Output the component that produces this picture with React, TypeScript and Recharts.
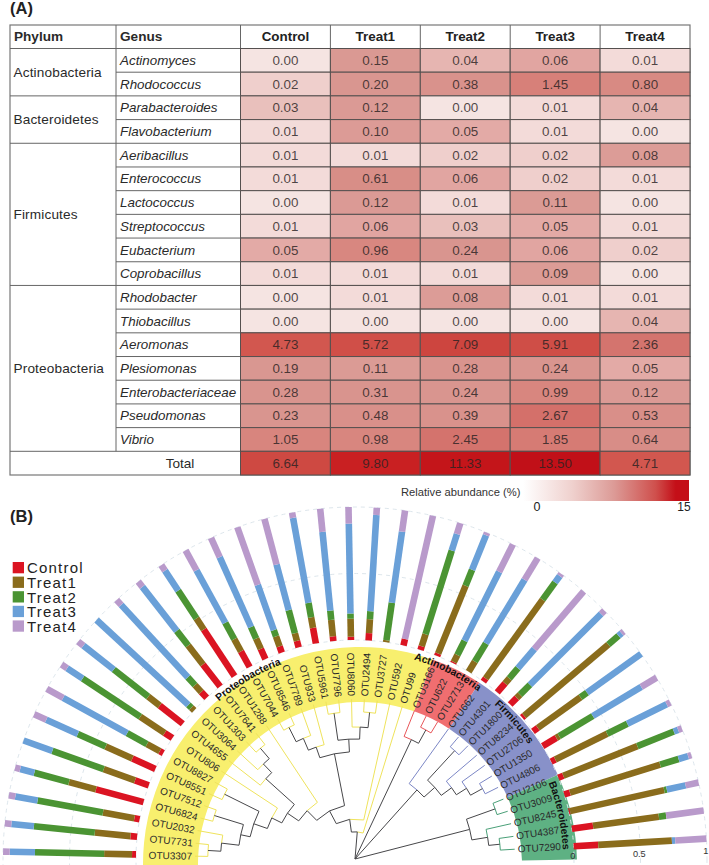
import React from "react";
import {
  Pie,
  PieChart,
  PolarAngleAxis,
  PolarGrid,
  PolarRadiusAxis,
  RadialBar,
  RadialBarChart,
  Scatter,
  ScatterChart,
  XAxis,
  YAxis,
} from "recharts";

const WIDTH = 709;
const HEIGHT = 865;
const FONT = '"Liberation Sans", Arial, sans-serif';

// ---- panel A data ----
const treatments = ["Control", "Treat1", "Treat2", "Treat3", "Treat4"];
const genera = [
  "Actinomyces", "Rhodococcus", "Parabacteroides", "Flavobacterium", "Aeribacillus", "Enterococcus",
  "Lactococcus", "Streptococcus", "Eubacterium", "Coprobacillus", "Rhodobacter", "Thiobacillus",
  "Aeromonas", "Plesiomonas", "Enterobacteriaceae", "Pseudomonas", "Vibrio",
];
const phyla = ["Actinobacteria", "Bacteroidetes", "Firmicutes", "Proteobacteria"];
const phylumRows = [2, 2, 6, 7];

const controlAbundance = ["0.00", "0.02", "0.03", "0.01", "0.01", "0.01", "0.00", "0.01", "0.05", "0.01", "0.00", "0.00", "4.73", "0.19", "0.28", "0.23", "1.05", "6.64"];
const treat1Abundance = ["0.15", "0.20", "0.12", "0.10", "0.01", "0.61", "0.12", "0.06", "0.96", "0.01", "0.01", "0.00", "5.72", "0.11", "0.31", "0.48", "0.98", "9.80"];
const treat2Abundance = ["0.04", "0.38", "0.00", "0.05", "0.02", "0.06", "0.01", "0.03", "0.24", "0.01", "0.08", "0.00", "7.09", "0.28", "0.24", "0.39", "2.45", "11.33"];
const treat3Abundance = ["0.06", "1.45", "0.01", "0.01", "0.02", "0.02", "0.11", "0.05", "0.06", "0.09", "0.01", "0.00", "5.91", "0.24", "0.99", "2.67", "1.85", "13.50"];
const treat4Abundance = ["0.01", "0.80", "0.04", "0.00", "0.08", "0.01", "0.00", "0.01", "0.02", "0.00", "0.01", "0.04", "2.36", "0.05", "0.12", "0.53", "0.64", "4.71"];

const heatStopValues = [0, 0.01, 0.02, 0.03, 0.05, 0.08, 0.2, 1, 2.5, 4.7, 7, 9.8, 11.3, 15];
const heatStopColors = ["#f5e4e2", "#f3dbd9", "#efcfcc", "#e9c0bc", "#e3aaa6", "#dc9c97", "#d99690", "#d8867f", "#d4726c", "#d2574f", "#cd4640", "#c92022", "#c4151a", "#bf0d16"];

// ---- panel B data ----
const otus = [
  "OTU3307", "OTU7731", "OTU2032", "OTU6824", "OTU7512", "OTU8551", "OTU8827", "OTU806", "OTU4655", "OTU3064",
  "OTU1303", "OTU7641", "OTU1288", "OTU7044", "OTU8546", "OTU7789", "OTU933", "OTU5961", "OTU7796", "OTU8060",
  "OTU2494", "OTU3727", "OTU592", "OTU99", "OTU3166", "OTU622", "OTU2713", "OTU662", "OTU4301", "OTU1800",
  "OTU8234", "OTU2706", "OTU1350", "OTU4806", "OTU2106", "OTU3009", "OTU8245", "OTU4387", "OTU7290",
];
const controlShare = [0.03, 0.05, 0.04, 0.37, 0.11, 0.19, 0.03, 0.07, 0.22, 0, 0.06, 0.21, 0.42, 0.135, 0.085, 0.05, 0.05, 0.12, 0.035, 0.025, 0.055, 0, 0.05, 0.03, 0.02, 0.01, 0, 0.03, 0.09, 0.07, 0.02, 0.045, 0.12, 0.035, 0.04, 0.045, 0.01, 0.16, 0.185];
const treat1Share = [0.21, 0.27, 0.24, 0.21, 0.25, 0.22, 0.11, 0.22, 0.11, 0.03, 0.07, 0.18, 0.1, 0.105, 0.085, 0.08, 0.06, 0.08, 0.125, 0.135, 0.105, 0.015, 0, 0.095, 0.55, 0.06, 0.09, 0.73, 0.05, 0.035, 0.83, 0.395, 0.025, 0.435, 0.6, 0.71, 0.725, 0.5, 0.555];
const treat2Share = [0.52, 0.46, 0.5, 0.27, 0.41, 0.23, 0.17, 0.52, 0.33, 0.03, 0.08, 0.14, 0.25, 0.14, 0.095, 0.05, 0.18, 0.11, 0.07, 0.04, 0.06, 0.285, 0, 0.66, 0.13, 0.12, 0.16, 0.16, 0.1, 0.105, 0.1, 0.06, 0.295, 0.17, 0.295, 0.145, 0.02, 0.055, 0];
const treat3Share = [0.19, 0.17, 0.17, 0.11, 0.23, 0.26, 0.55, 0.14, 0.29, 0.94, 0.74, 0.42, 0.18, 0.45, 0.575, 0.36, 0.355, 0.65, 0.595, 0.675, 0.725, 0.54, 0, 0.13, 0.28, 0.58, 0.56, 0.06, 0.19, 0.755, 0.03, 0.5, 0.425, 0.33, 0.035, 0.075, 0.145, 0, 0.025];
const treat4Share = [0.05, 0.05, 0.05, 0.04, 0, 0.1, 0.14, 0.05, 0.05, 0, 0.05, 0.05, 0.05, 0.17, 0.16, 0.46, 0.355, 0.04, 0.175, 0.125, 0.055, 0.16, 0.95, 0.085, 0.02, 0.23, 0.19, 0.02, 0.57, 0.035, 0.02, 0, 0.135, 0.03, 0.03, 0.025, 0.1, 0.285, 0.235];
const seriesColors = ["#db1422", "#8a6c1c", "#4b9433", "#6aa0d8", "#b99acb"];

const cladeOtuCounts = [24, 3, 7, 5];
const cladeNames = ["Proteobacteria", "Actinobacteria", "Firmicutes", "Bacteroidetes"];
const cladeFills = ["#f8ef6e", "#f06e70", "#8891c9", "#5eb183"];
const cladeLines = ["#efe35c", "#e8565a", "#7c87c6", "#4aa078"];

// tree: [depth as a share of the leaf radius, ...children]; a string is a leaf
type TreeNode = string | [number, ...TreeNode[]];
const proteoTree: TreeNode = [0.17,
  [0.25,
    [0.34,
      [0.425,
        [0.51,
          [0.58,
            [0.67,
              [0.73,
                [0.84, [0.92, "OTU3307", "OTU7731"], "OTU2032"],
                [0.92, "OTU6824", "OTU7512"]],
              [0.91, "OTU8551", "OTU8827"]],
            "OTU806"],
          [0.75, "OTU4655", [0.825, "OTU3064", [0.91, "OTU1303", "OTU7641"]]]],
        "OTU1288"],
      [0.67,
        [0.74, [0.82, [0.92, "OTU7044", "OTU8546"], "OTU7789"], "OTU933"],
        [0.75, [0.92, "OTU5961", "OTU7796"], [0.825, "OTU8060", [0.92, "OTU2494", "OTU3727"]]]]],
    "OTU592"],
  "OTU99"];
const actinoTree: TreeNode = [0.825, "OTU3166", [0.92, "OTU622", "OTU2713"]];
const firmiTree: TreeNode = [0.58, "OTU662",
  [0.67, [0.92, "OTU4301", "OTU1800"],
    [0.75, "OTU8234", [0.825, "OTU2706", [0.91, "OTU1350", "OTU4806"]]]]];
const bacteroTree: TreeNode = [0.74, [0.93, "OTU2106", "OTU3009"], [0.84, "OTU8245", [0.91, "OTU4387", "OTU7290"]]];
const cladeTrees = [proteoTree, actinoTree, firmiTree, bacteroTree];

const radialRows = otus.map((otu, i) => ({
  otu,
  control: controlShare[i],
  treat1: treat1Share[i],
  treat2: treat2Share[i],
  treat3: treat3Share[i],
  treat4: treat4Share[i],
}));
const radialKeys = ["control", "treat1", "treat2", "treat3", "treat4"];

const heatColumns = [controlAbundance, treat1Abundance, treat2Abundance, treat3Abundance, treat4Abundance];
const heatCells = heatColumns.flatMap((column, col) =>
  column.map((label, row) => ({ col, row, label, value: Number(label) }))
);

// ---- geometry ----
const TABLE = { left: 10, genus: 116, plot: 240.5, right: 690, top: 25, head: 48.5, bottom: 475 };
const ROW_H = (TABLE.bottom - TABLE.head) / 18;
const COL_W = (TABLE.right - TABLE.plot) / 5;

const CX = 355;
const CY = 859;
const BAR_IN = 219;
const BAR_OUT = 352;
const BAND_IN = 162;
const BAND_OUT = 217;
const LEAF_R = 160;
const START_ANGLE = 181.3;
const END_ANGLE = 1.2;
const STEP = (START_ANGLE - END_ANGLE) / otus.length;
const rad = Math.PI / 180;

const polar = (r: number, a: number) => ({ x: CX + r * Math.cos(a * rad), y: CY - r * Math.sin(a * rad) });
const leafAngle = (name: string) => START_ANGLE - (otus.indexOf(name) + 0.5) * STEP;

function hexToRgb(hex: string) {
  return [1, 3, 5].map((i) => parseInt(hex.slice(i, i + 2), 16));
}

function heatColor(v: number) {
  let i = 0;
  while (i < heatStopValues.length - 2 && v > heatStopValues[i + 1]) i++;
  const t = Math.min(1, (v - heatStopValues[i]) / (heatStopValues[i + 1] - heatStopValues[i]));
  const a = hexToRgb(heatStopColors[i]);
  const b = hexToRgb(heatStopColors[i + 1]);
  return `rgb(${a.map((c, k) => Math.round(c + (b[k] - c) * t)).join(",")})`;
}

function HeatCell(props: any) {
  const { cx, cy, payload } = props;
  return (
    <g>
      <rect x={cx - COL_W / 2} y={cy - ROW_H / 2} width={COL_W} height={ROW_H} fill={heatColor(payload.value)} stroke="#55504f" strokeWidth={1} />
      <text x={cx} y={cy + 4.6} textAnchor="middle" fontSize={13.4} fontFamily={FONT} fill="#2a2222" fillOpacity={0.82}>
        {payload.label}
      </text>
    </g>
  );
}

function GenusTick(props: any) {
  const { y, payload } = props;
  if (payload.value >= genera.length) return null;
  return (
    <text x={TABLE.genus + 4} y={y + 4.6} fontSize={13.4} fontStyle="italic" fontFamily={FONT} fill="#2a2a2a">
      {genera[payload.value]}
    </text>
  );
}

function HeadTick(props: any) {
  const { x, payload } = props;
  return (
    <text x={x} y={TABLE.top + 16} textAnchor="middle" fontSize={13.4} fontWeight="bold" fontFamily={FONT} fill="#222">
      {treatments[payload.value]}
    </text>
  );
}

function TableFrame() {
  const line = { stroke: "#666", strokeWidth: 1 };
  let acc = 0;
  return (
    <g fontFamily={FONT} fill="#2a2a2a" fontSize={13.6}>
      <rect x={TABLE.left} y={TABLE.top} width={TABLE.right - TABLE.left} height={TABLE.bottom - TABLE.top} fill="none" stroke="#777" strokeWidth={1.2} />
      <line x1={TABLE.left} x2={TABLE.right} y1={TABLE.head} y2={TABLE.head} {...line} />
      <line x1={TABLE.genus} x2={TABLE.genus} y1={TABLE.top} y2={TABLE.head + 17 * ROW_H} {...line} />
      <line x1={TABLE.plot} x2={TABLE.plot} y1={TABLE.top} y2={TABLE.bottom} {...line} />
      {treatments.map((t, i) => (
        <line key={t} x1={TABLE.plot + COL_W * i} x2={TABLE.plot + COL_W * i} y1={TABLE.top} y2={TABLE.head} {...line} />
      ))}
      {genera.map((g, i) => (
        <line key={g} x1={TABLE.genus} x2={TABLE.plot} y1={TABLE.head + ROW_H * (i + 1)} y2={TABLE.head + ROW_H * (i + 1)} {...line} />
      ))}
      {phyla.map((p, i) => {
        const top = TABLE.head + acc * ROW_H;
        acc += phylumRows[i];
        const bottom = TABLE.head + acc * ROW_H;
        return (
          <g key={p}>
            <line x1={TABLE.left} x2={TABLE.genus} y1={bottom} y2={bottom} {...line} />
            <text x={TABLE.left + 3.5} y={(top + bottom) / 2 + 4.8} letterSpacing={0.15}>{p}</text>
          </g>
        );
      })}
      <text x={TABLE.left + 4} y={TABLE.top + 16} fontWeight="bold">Phylum</text>
      <text x={TABLE.genus + 4} y={TABLE.top + 16} fontWeight="bold">Genus</text>
      <text x={180} y={TABLE.bottom - 7} textAnchor="middle">Total</text>
    </g>
  );
}

function HeatLegend() {
  return (
    <g fontFamily={FONT}>
      <defs>
        <linearGradient id="heatRamp" x1="0" x2="1" y1="0" y2="0">
          <stop offset="0" stopColor="#ffffff" />
          <stop offset="0.3" stopColor="#efd0cd" />
          <stop offset="0.55" stopColor="#dc9a96" />
          <stop offset="0.8" stopColor="#cf4f4c" />
          <stop offset="0.92" stopColor="#c40f18" />
          <stop offset="1" stopColor="#c40f18" />
        </linearGradient>
      </defs>
      <rect x={523} y={480} width={166} height={21} fill="url(#heatRamp)" />
      <text x={401} y={496} fontSize={11.2} fill="#333">Relative abundance (%)</text>
      <text x={537} y={511} fontSize={12.5} textAnchor="middle" fill="#222">0</text>
      <text x={684} y={511} fontSize={12} textAnchor="middle" fill="#222">15</text>
    </g>
  );
}

// the library hands over each band's edge and a bar size that points the wrong way on a
// clockwise axis, so take the band centre on the far side of startAngle
function StraightBar(props: any) {
  const { innerRadius, outerRadius, startAngle, endAngle, fill } = props;
  if (!(outerRadius > innerRadius)) return <g />;
  const a = startAngle - (endAngle - startAngle) / 2;
  const p = polar(innerRadius, a);
  const q = polar(outerRadius, a);
  return <line x1={p.x} y1={p.y} x2={q.x} y2={q.y} stroke={fill} strokeWidth={6.6} />;
}

function RadiusTick(props: any) {
  const { x, y, payload } = props;
  return (
    <text x={x - 1} y={y + 7.5} textAnchor="middle" fontSize={9.2} fontFamily={FONT} fill="#333">
      {payload.value}
    </text>
  );
}

function drawTree(node: TreeNode, clade: number, out: React.ReactElement[]): { r: number; a: number } {
  if (typeof node === "string") return { r: LEAF_R, a: leafAngle(node) };
  const [depth, ...kids] = node;
  const r = depth * LEAF_R;
  const placed = kids.map((k) => drawTree(k, clade, out));
  const a = (placed[0].a + placed[placed.length - 1].a) / 2;
  placed.forEach((c, i) => {
    const color = typeof kids[i] === "string" ? cladeLines[clade] : "#47474a";
    const s = polar(c.r, c.a);
    const e = polar(r, c.a);
    const m = polar(r, a);
    out.push(<polyline key={out.length} points={`${s.x},${s.y} ${e.x},${e.y} ${m.x},${m.y}`} fill="none" stroke={color} strokeWidth={1} />);
  });
  return { r, a };
}

function PhyloTree() {
  const edges: React.ReactElement[] = [];
  const tops = cladeTrees.map((t, i) => drawTree(t, i, edges));
  return (
    <g>
      {edges}
      {tops.map((t, i) => {
        const p = polar(t.r, t.a);
        return <line key={i} x1={CX} y1={CY} x2={p.x} y2={p.y} stroke="#47474a" strokeWidth={1} />;
      })}
    </g>
  );
}

function LeafLabels() {
  return (
    <g fontFamily={FONT} fontSize={10} fill="#2b2b2b">
      {otus.map((otu) => {
        const a = leafAngle(otu);
        const p = polar(163, a);
        const left = a > 90;
        return (
          <text key={otu} x={p.x} y={p.y} dy="0.35em" textAnchor={left ? "end" : "start"} transform={`rotate(${left ? 180 - a : -a} ${p.x} ${p.y})`}>
            {otu}
          </text>
        );
      })}
    </g>
  );
}

const cladeLabelSpans = [[130.8, 110], [73.6, 53], [48, 33], [21.5, 2.5]];
const CLADE_LABEL_R = 208;

function CladeLabels() {
  return (
    <g fontFamily={FONT} fontSize={10.4} fontWeight="bold" fill="#111">
      <defs>
        {cladeNames.map((name, i) => {
          const p = polar(CLADE_LABEL_R, cladeLabelSpans[i][0]);
          const q = polar(CLADE_LABEL_R, cladeLabelSpans[i][1]);
          return <path key={name} id={`arc-${name}`} d={`M ${p.x} ${p.y} A ${CLADE_LABEL_R} ${CLADE_LABEL_R} 0 0 1 ${q.x} ${q.y}`} fill="none" />;
        })}
      </defs>
      {cladeNames.map((name) => (
        <text key={name}>
          <textPath href={`#arc-${name}`}>{name}</textPath>
        </text>
      ))}
    </g>
  );
}

function SeriesLegend() {
  return (
    <g fontFamily={FONT} fontSize={15} fill="#222">
      {treatments.map((t, i) => (
        <g key={t}>
          <rect x={12.7} y={562 + i * 14.6} width={11.3} height={11.3} fill={seriesColors[i]} />
          <text x={27} y={573.3 + i * 14.6} letterSpacing={1.2}>{t}</text>
        </g>
      ))}
    </g>
  );
}

const layer: React.CSSProperties = { position: "absolute", left: 0, top: 0 };

export default function App() {
  return (
    <div style={{ position: "absolute", left: 0, top: 0, width: WIDTH, height: HEIGHT, background: "#fff", overflow: "hidden" }}>
      <div style={layer}>
        <ScatterChart width={WIDTH} height={HEIGHT} margin={{ top: TABLE.top, right: WIDTH - TABLE.right, bottom: HEIGHT - TABLE.bottom, left: TABLE.left }}>
          <TableFrame />
          <XAxis type="number" dataKey="col" orientation="top" height={TABLE.head - TABLE.top} domain={[-0.5, 4.5]} ticks={[0, 1, 2, 3, 4]} axisLine={false} tickLine={false} tick={<HeadTick />} interval={0} />
          <YAxis type="number" dataKey="row" reversed width={TABLE.plot - TABLE.left} domain={[-0.5, 17.5]} ticks={genera.map((_, i) => i)} axisLine={false} tickLine={false} tick={<GenusTick />} interval={0} />
          <Scatter data={heatCells} shape={<HeatCell />} isAnimationActive={false} />
          <HeatLegend />
          <text x={10} y={13.5} fontFamily={FONT} fontSize={16.5} fontWeight="bold" fill="#222">(A)</text>
          <text x={10} y={522} fontFamily={FONT} fontSize={16.5} fontWeight="bold" fill="#222">(B)</text>
        </ScatterChart>
      </div>
      <div style={layer}>
        <PieChart width={WIDTH} height={HEIGHT}>
          <Pie
            data={cladeNames.map((name, i) => ({ name, count: cladeOtuCounts[i], fill: cladeFills[i] }))}
            dataKey="count"
            cx={CX}
            cy={CY}
            innerRadius={BAND_IN}
            outerRadius={BAND_OUT}
            startAngle={START_ANGLE}
            endAngle={END_ANGLE}
            stroke="none"
            isAnimationActive={false}
          />
        </PieChart>
      </div>
      <div style={layer}>
        <RadialBarChart
          width={WIDTH}
          height={HEIGHT}
          data={radialRows}
          layout="centric"
          cx={CX}
          cy={CY}
          innerRadius={BAR_IN}
          outerRadius={BAR_OUT}
          startAngle={START_ANGLE}
          endAngle={END_ANGLE}
          barCategoryGap="0%"
        >
          <PolarGrid gridType="circle" radialLines={false} polarRadius={[BAR_IN, (BAR_IN + BAR_OUT) / 2, BAR_OUT]} stroke="#dde6ec" strokeDasharray="4 4" />
          <PolarAngleAxis type="category" dataKey="otu" tick={false} axisLine={false} tickLine={false} />
          <PolarRadiusAxis type="number" domain={[0, 1]} angle={2} tickCount={3} allowDecimals axisLine={false} tickLine={false} orientation="middle" tick={<RadiusTick />} />
          {radialKeys.map((key, i) => (
            <RadialBar key={key} dataKey={key} stackId="otu" fill={seriesColors[i]} shape={<StraightBar />} isAnimationActive={false} />
          ))}
          <PhyloTree />
          <LeafLabels />
          <CladeLabels />
          <SeriesLegend />
        </RadialBarChart>
      </div>
    </div>
  );
}
